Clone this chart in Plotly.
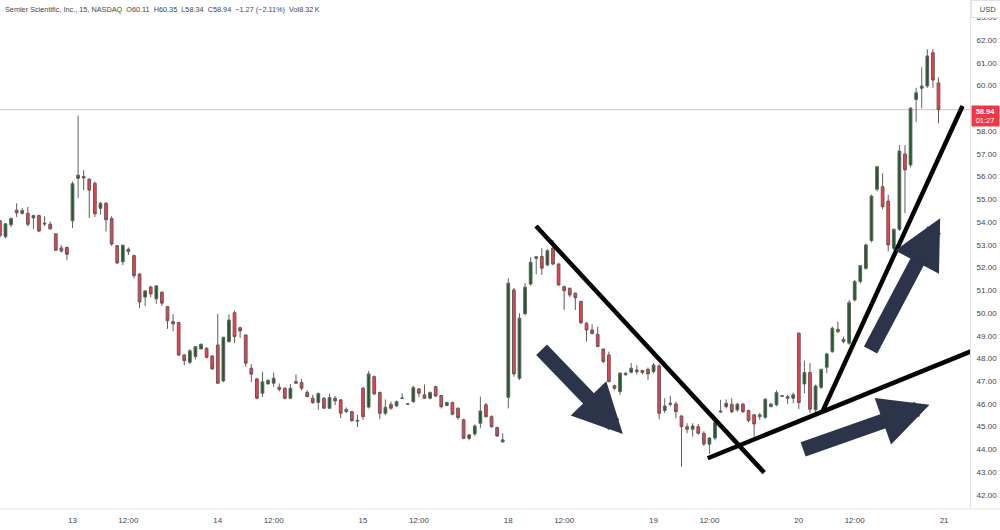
import plotly.graph_objects as go

# ---------------- data (15-min bars, index 0 = first bar of day "13") ----------------
bar_index = list(range(-13, 156))

opens = [
    54.05, 53.35, 53.88, 54.52, 54.38, 54.38, 54.18, 54.28, 53.95, 53.90, 53.48, 52.86, 52.88,
    54.05, 55.92, 56.00, 55.88, 55.70, 54.60, 54.82, 54.15, 52.96, 52.25, 52.80, 52.52, 51.71,
    50.70, 51.14, 50.62, 50.91, 50.28, 49.62, 49.58, 48.15, 47.83, 48.08, 48.42, 48.44, 48.11,
    48.59, 47.01, 48.74, 50.01, 49.35, 49.03, 47.57, 47.10, 46.47, 46.88, 46.91, 46.73, 46.69,
    46.25, 46.98, 46.94, 46.51, 46.25, 46.06, 46.25, 45.81, 46.25, 46.18, 45.66, 45.66, 45.28,
    46.69, 45.86, 47.20, 46.50, 45.59, 45.98, 45.91, 46.25, 46.00, 46.10, 46.66, 46.40, 46.25,
    46.76, 46.37, 45.93, 46.06, 45.81, 45.30, 44.49, 44.68, 45.15, 45.96, 45.44, 44.96, 44.33,
    46.29, 51.01, 47.13, 49.96, 51.27, 52.40, 52.48, 52.11, 52.84, 52.15, 51.16, 51.09, 50.87,
    50.50, 49.55, 49.25, 49.06, 48.41, 48.15, 46.80, 46.54, 47.28, 47.39, 47.49, 47.47, 47.52,
    47.42, 47.67, 45.71, 45.98, 46.00, 45.47, 45.00, 44.89, 45.00, 44.71, 44.23, 44.50, 45.64,
    45.88, 45.99, 45.74, 45.99, 45.71, 45.52, 45.44, 45.41, 45.88, 45.96, 46.36, 46.25, 46.25,
    49.11, 46.88, 47.38, 45.74, 46.73, 47.61, 48.30, 49.28, 48.84, 48.67, 50.57, 51.38, 51.96,
    53.18, 55.44, 55.55, 54.92, 52.84, 53.68, 56.99, 56.51, 59.39, 59.88, 59.98, 61.44, 60.11,
]
highs = [
    54.10, 53.95, 54.20, 54.82, 54.62, 54.66, 54.32, 54.32, 54.25, 54.02, 53.50, 52.98, 52.92,
    55.78, 58.68, 56.28, 55.92, 55.78, 54.88, 54.88, 54.25, 52.98, 53.00, 52.88, 52.56, 51.76,
    51.00, 51.20, 51.22, 50.95, 50.30, 49.95, 49.60, 48.20, 48.40, 48.55, 48.66, 48.50, 48.15,
    49.96, 48.95, 49.94, 50.10, 49.40, 49.05, 47.75, 47.15, 47.42, 47.10, 47.38, 46.90, 46.72,
    46.88, 47.30, 47.10, 46.60, 46.40, 46.50, 46.30, 46.45, 46.35, 46.20, 45.85, 45.70, 45.52,
    46.75, 47.45, 47.25, 46.55, 46.20, 46.10, 46.15, 46.47, 46.02, 46.80, 46.70, 46.85, 46.55,
    46.80, 46.40, 46.10, 46.10, 45.85, 45.35, 44.66, 45.10, 46.32, 46.05, 45.50, 45.00, 44.71,
    51.52, 51.10, 49.99, 51.31, 52.45, 52.50, 52.84, 52.80, 53.21, 52.20, 51.20, 51.10, 50.90,
    50.55, 49.60, 49.50, 49.40, 48.45, 48.30, 46.85, 47.40, 47.40, 47.80, 47.70, 47.50, 47.60,
    47.80, 47.75, 46.25, 46.35, 46.10, 45.50, 45.15, 45.15, 45.12, 44.80, 44.55, 45.27, 46.18,
    46.20, 46.25, 46.05, 46.05, 45.75, 45.55, 45.60, 46.25, 46.05, 46.60, 46.38, 46.40, 46.50,
    49.15, 47.90, 47.79, 46.85, 47.55, 48.25, 49.40, 49.62, 48.96, 50.57, 51.45, 52.10, 53.05,
    55.20, 56.45, 56.14, 55.19, 53.70, 57.38, 57.38, 59.05, 59.90, 60.80, 61.60, 61.60, 60.35,
]
lows = [
    53.30, 53.28, 53.77, 54.22, 54.32, 53.80, 53.68, 53.56, 53.82, 53.66, 52.72, 52.66, 52.32,
    53.74, 55.05, 55.40, 54.18, 54.22, 54.32, 53.58, 52.95, 52.15, 52.10, 52.55, 51.52, 50.22,
    50.30, 50.70, 50.40, 50.30, 49.30, 49.20, 48.10, 47.70, 47.75, 47.95, 48.40, 48.00, 47.50,
    46.90, 46.95, 48.70, 48.67, 48.90, 47.64, 46.96, 46.20, 46.30, 46.85, 46.75, 46.55, 46.20,
    46.20, 46.90, 46.60, 46.30, 46.00, 45.74, 45.80, 45.78, 45.95, 45.37, 45.60, 45.20, 44.98,
    45.30, 45.80, 46.40, 45.33, 45.50, 45.75, 45.88, 46.23, 45.97, 46.05, 46.30, 46.22, 46.20,
    46.30, 45.80, 45.90, 45.50, 45.30, 44.45, 44.40, 44.60, 44.93, 45.40, 44.95, 44.55, 44.30,
    45.80, 47.20, 47.05, 49.90, 51.20, 51.70, 51.67, 52.05, 52.10, 51.20, 50.13, 50.70, 50.13,
    49.50, 48.74, 49.05, 48.50, 47.80, 46.95, 46.60, 46.40, 47.25, 47.35, 47.30, 47.30, 47.06,
    47.35, 45.33, 45.60, 45.90, 45.37, 43.24, 44.71, 44.56, 44.65, 44.15, 43.80, 44.40, 45.60,
    45.80, 45.59, 45.65, 45.60, 45.20, 44.56, 45.30, 45.35, 45.85, 45.90, 46.32, 46.00, 46.03,
    45.77, 46.47, 45.59, 45.60, 46.65, 47.35, 48.25, 49.11, 48.67, 48.60, 50.50, 51.30, 51.90,
    53.10, 55.35, 54.56, 52.70, 52.75, 53.60, 54.38, 56.40, 58.40, 59.00, 59.90, 59.90, 58.34,
]
closes = [
    53.40, 53.92, 54.15, 54.40, 54.50, 53.90, 54.28, 53.60, 53.92, 53.70, 52.76, 52.72, 52.58,
    55.68, 56.06, 55.94, 55.40, 54.36, 54.82, 54.10, 53.03, 52.20, 52.98, 52.70, 51.64, 50.48,
    50.97, 50.84, 51.19, 50.43, 49.66, 49.52, 48.15, 47.90, 48.34, 48.52, 48.62, 48.05, 47.54,
    46.91, 48.93, 49.69, 48.96, 49.21, 47.79, 47.31, 46.25, 46.97, 47.03, 47.13, 46.64, 46.25,
    46.69, 46.91, 46.69, 46.32, 46.06, 46.46, 45.81, 46.28, 46.13, 45.59, 45.76, 45.27, 45.25,
    45.44, 47.32, 46.44, 45.59, 45.85, 45.81, 46.10, 46.26, 45.99, 46.72, 46.47, 46.25, 46.50,
    46.35, 45.88, 46.06, 45.55, 45.40, 44.49, 44.64, 45.03, 45.69, 45.44, 45.00, 44.59, 44.42,
    51.31, 47.32, 49.77, 51.13, 52.23, 52.47, 51.97, 52.74, 52.15, 51.23, 50.98, 50.79, 50.67,
    49.57, 49.25, 49.10, 48.52, 47.86, 46.98, 46.69, 47.35, 47.35, 47.57, 47.42, 47.38, 47.32,
    47.71, 45.59, 45.91, 46.03, 45.66, 45.00, 44.89, 45.03, 44.71, 44.24, 44.50, 45.18, 45.68,
    46.03, 45.66, 45.99, 45.66, 45.27, 45.12, 45.52, 46.21, 45.99, 46.50, 46.34, 46.32, 46.40,
    46.06, 47.38, 45.77, 46.79, 47.52, 48.20, 49.33, 49.18, 48.74, 50.45, 51.38, 52.08, 52.99,
    55.14, 56.43, 54.67, 52.99, 53.68, 57.12, 56.29, 59.00, 59.68, 59.98, 61.30, 60.24, 58.94,
]

tick_index = [0, 10, 26, 36, 52, 62, 78, 88, 104, 114, 130, 140, 156]
tick_text = ["13", "12:00", "14", "12:00", "15", "12:00", "18", "12:00",
             "19", "12:00", "20", "12:00", "21"]
# 59.00 sits behind the last-price label in the reference, so it is not drawn
price_ticks = [42, 43, 44, 45, 46, 47, 48, 49, 50, 51, 52, 53, 54, 55, 56, 57, 58, 60, 61, 62, 63]
last_price = 58.94
countdown = "01:27"
header = ("Semler Scientific, Inc., 15, NASDAQ  O60.11  H60.35  L58.34  C58.94  "
          "\u22121.27 (\u22122.11%)  Vol8.32\u2009K")

# hand-drawn trend lines (bar index, price)
trend_x0 = [82.96, 113.7, 134.3]
trend_y0 = [53.82, 43.61, 45.70]
trend_x1 = [123.8, 161.4, 159.3]
trend_y1 = [42.98, 48.37, 59.10]

# hand-drawn arrows (tail -> tip, bar index / price)
arrow_tail_x = [83.7, 130.5, 142.7]
arrow_tail_y = [48.45, 43.98, 48.30]
arrow_tip_x = [98.5, 153.4, 155.3]
arrow_tip_y = [44.68, 45.96, 54.16]

FONT = "Liberation Sans, Arial, sans-serif"
TXT = "#43464f"

fig = go.Figure()
fig.add_trace(go.Candlestick(
    x=bar_index, open=opens, high=highs, low=lows, close=closes,
    increasing=dict(line=dict(color="#5f6360", width=1), fillcolor="#1f5c27"),
    decreasing=dict(line=dict(color="#6b5557", width=1), fillcolor="#ee3f4d"),
    whiskerwidth=0, showlegend=False, hoverinfo="skip",
))

shapes = []
# last price line
shapes.append(dict(type="line", xref="paper", x0=0, x1=1, yref="y", y0=last_price, y1=last_price,
                   line=dict(color="#f49aa3", width=0.8), layer="below"))
for x0, y0, x1, y1 in zip(trend_x0, trend_y0, trend_x1, trend_y1):
    shapes.append(dict(type="line", xref="x", yref="y", x0=x0, y0=y0, x1=x1, y1=y1,
                       line=dict(color="#050505", width=4.5), layer="above"))
# bottom separator across the whole width
shapes.append(dict(type="line", xref="paper", yref="paper", x0=0, x1=1.035, y0=0, y1=0,
                   line=dict(color="#e0e3eb", width=1)))

annotations = []
for tx, ty, hx, hy in zip(arrow_tail_x, arrow_tail_y, arrow_tip_x, arrow_tip_y):
    annotations.append(dict(x=hx, y=hy, xref="x", yref="y", ax=tx, ay=ty, axref="x", ayref="y",
                            text="", showarrow=True, arrowhead=2, arrowsize=0.66,
                            arrowwidth=15, arrowcolor="#2c3449", standoff=0, startstandoff=0))
annotations.append(dict(text=header, xref="paper", yref="paper", x=0, y=1, xanchor="left",
                        yanchor="top", xshift=3, yshift=-3, showarrow=False,
                        font=dict(family=FONT, size=7.3, color=TXT)))
annotations.append(dict(text="USD", xref="paper", yref="paper", x=1, y=1, xanchor="left",
                        yanchor="top", xshift=1, showarrow=False, width=30, height=14,
                        bgcolor="white", bordercolor="#e0e3eb", borderwidth=1,
                        font=dict(family=FONT, size=7.5, color=TXT)))
annotations.append(dict(text="<b>%.2f</b><br>%s" % (last_price, countdown), xref="paper", yref="y",
                        x=1, y=last_price, xanchor="left", yanchor="top", xshift=1, yshift=5,
                        showarrow=False, width=25, height=18, bgcolor="#f23645",
                        font=dict(family=FONT, size=7.5, color="white")))

fig.update_layout(
    width=1000, height=530,
    margin=dict(l=0, r=30, t=0, b=21),
    paper_bgcolor="white", plot_bgcolor="white",
    shapes=shapes, annotations=annotations,
    font=dict(family=FONT, size=8, color=TXT),
    xaxis=dict(range=[-12.98, 160.64], tickmode="array", tickvals=tick_index, ticktext=tick_text,
               showgrid=False, zeroline=False, showline=False, rangeslider=dict(visible=False),
               ticks="outside", ticklen=3, tickcolor="rgba(0,0,0,0)",
               tickfont=dict(family=FONT, size=8, color=TXT)),
    yaxis=dict(range=[41.38, 63.76], side="right", tickmode="array", tickvals=price_ticks,
               ticktext=["%.2f" % v for v in price_ticks], showgrid=False, zeroline=False,
               showline=True, linecolor="#e0e3eb", linewidth=1,
               ticks="outside", ticklen=4, tickcolor="rgba(0,0,0,0)",
               tickfont=dict(family=FONT, size=8, color=TXT)),
    hovermode=False,
)

fig.write_html(
    "out.html",
    config={"displayModeBar": False},
    post_script="document.body.style.margin='0';document.body.style.overflow='hidden';",
)
